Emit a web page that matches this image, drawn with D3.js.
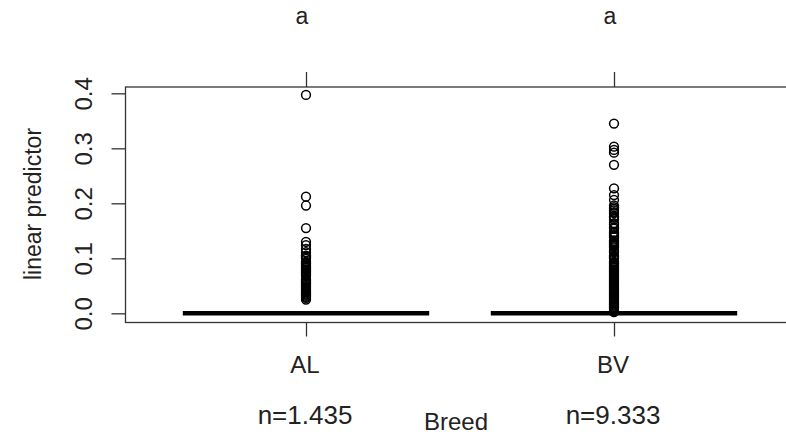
<!DOCTYPE html>
<html>
<head>
<meta charset="utf-8">
<script src="https://cdn.jsdelivr.net/npm/d3@7"></script>
<style>
  html, body { margin: 0; padding: 0; background: #fff; }
  svg { display: block; }
  text { font-family: "Liberation Sans", Arial, sans-serif; fill: #222; }
</style>
</head>
<body>
<svg id="chart" width="786" height="434"></svg>
<script>
// Groups and their summary labels
const breeds = ["AL", "BV"];
const groupLetters = ["a", "a"];
const counts = ["n=1.435", "n=9.333"];

// Five-number summaries (min whisker, Q1, median, Q3, max whisker)
const alStats = [0, 0, 0, 0, 0];
const bvStats = [0, 0, 0, 0, 0];

// Points beyond the whiskers
const alOutliers = [
  0.397, 0.212, 0.196, 0.155, 0.130, 0.124, 0.117, 0.111,
  0.105, 0.103, 0.101, 0.099, 0.094, 0.092, 0.090, 0.088, 0.086,
  0.084, 0.082, 0.080, 0.078, 0.076, 0.074, 0.072, 0.070, 0.068,
  0.062, 0.060, 0.058, 0.056, 0.054, 0.052, 0.050, 0.048, 0.046,
  0.044, 0.042, 0.040, 0.038, 0.036, 0.034, 0.032, 0.030, 0.028, 0.025
];
const bvOutliers = [
  0.345, 0.303, 0.297, 0.292, 0.270, 0.227, 0.215, 0.206,
  0.196, 0.193, 0.190, 0.187, 0.184, 0.182, 0.176, 0.174, 0.171,
  0.164, 0.162, 0.156, 0.154, 0.148, 0.146, 0.144, 0.142, 0.140,
  0.138, 0.132, 0.130, 0.128, 0.126, 0.124, 0.122, 0.120, 0.115,
  0.113, 0.111, 0.105, 0.103, 0.101, 0.099, 0.094, 0.092, 0.090,
  0.088, 0.086, 0.084, 0.082, 0.080, 0.078, 0.076, 0.074, 0.072,
  0.070, 0.068, 0.066, 0.064, 0.062, 0.060, 0.058, 0.056, 0.054,
  0.052, 0.050, 0.048, 0.046, 0.044, 0.042, 0.040, 0.038, 0.036,
  0.034, 0.032, 0.030, 0.028, 0.026, 0.024, 0.022, 0.020, 0.018,
  0.016, 0.014, 0.012, 0.010, 0.008, 0.006, 0.004, 0.002
];

const yTicks = [0.0, 0.1, 0.2, 0.3, 0.4];
const yLimits = [-0.0167, 0.4115];

const groups = [
  { name: breeds[0], pos: 1, stats: alStats, out: alOutliers, letter: groupLetters[0], n: counts[0] },
  { name: breeds[1], pos: 2, stats: bvStats, out: bvOutliers, letter: groupLetters[1], n: counts[1] }
];

const svg = d3.select("#chart");
const plot = { left: 125.5, right: 794, top: 87, bottom: 322.5 };

const x = d3.scaleLinear().domain([1, 2]).range([306, 614]);
const y = d3.scaleLinear().domain(yLimits).range([plot.bottom, plot.top]);
const boxHalf = 0.4;
const frameColor = "#333";
const fontFamily = "Liberation Sans, Arial, sans-serif";

// Plot frame
svg.append("rect")
  .attr("x", plot.left).attr("y", plot.top)
  .attr("width", plot.right - plot.left).attr("height", plot.bottom - plot.top)
  .attr("fill", "none").attr("stroke", frameColor).attr("stroke-width", 1.3);

// Left axis with labels parallel to the axis
const yAxis = svg.append("g")
  .attr("transform", `translate(${plot.left},0)`)
  .call(d3.axisLeft(y).tickValues(yTicks).tickSize(14).tickFormat(d3.format(".1f")));
yAxis.select(".domain").remove();
yAxis.selectAll(".tick line").attr("stroke", frameColor).attr("stroke-width", 1.3);
yAxis.selectAll(".tick text")
  .attr("x", null).attr("dy", null)
  .attr("transform", "translate(-34,0) rotate(-90)")
  .attr("text-anchor", "middle")
  .style("font-size", "24px")
  .style("font-family", fontFamily)
  .attr("fill", "#222");

// Bottom axis with group names
const xAxis = svg.append("g")
  .attr("transform", `translate(0,${plot.bottom})`)
  .call(d3.axisBottom(x).tickValues(groups.map(g => g.pos)).tickSize(14)
    .tickFormat((d, i) => groups[i].name));
xAxis.select(".domain").remove();
xAxis.selectAll(".tick line").attr("stroke", frameColor).attr("stroke-width", 1.3);
xAxis.selectAll(".tick text")
  .attr("y", 50.5).attr("dy", null).attr("dx", -1.5)
  .style("font-size", "24px")
  .style("font-family", fontFamily)
  .attr("fill", "#222");

// Top axis carrying the grouping letters
const topAxis = svg.append("g")
  .attr("transform", `translate(0,${plot.top})`)
  .call(d3.axisTop(x).tickValues(groups.map(g => g.pos)).tickSize(15)
    .tickFormat((d, i) => groups[i].letter));
topAxis.select(".domain").remove();
topAxis.selectAll(".tick line").attr("stroke", frameColor).attr("stroke-width", 1.3);
topAxis.selectAll(".tick text")
  .attr("y", -63).attr("dy", null).attr("dx", -4.5)
  .style("font-size", "23px")
  .style("font-family", fontFamily)
  .attr("fill", "#222");

// Boxes: zero-height boxes collapse onto the median
groups.forEach(g => {
  const [lo, q1, med, q3, hi] = g.stats;
  const gEl = svg.append("g");
  const x0 = x(g.pos - boxHalf), x1 = x(g.pos + boxHalf);
  const s0 = x(g.pos - boxHalf / 2), s1 = x(g.pos + boxHalf / 2);
  // whiskers and staples
  gEl.append("line").attr("x1", x(g.pos)).attr("x2", x(g.pos))
    .attr("y1", y(hi)).attr("y2", y(q3)).attr("stroke", "#000").attr("stroke-dasharray", "4,3");
  gEl.append("line").attr("x1", x(g.pos)).attr("x2", x(g.pos))
    .attr("y1", y(q1)).attr("y2", y(lo)).attr("stroke", "#000").attr("stroke-dasharray", "4,3");
  gEl.append("line").attr("x1", s0).attr("x2", s1).attr("y1", y(hi)).attr("y2", y(hi)).attr("stroke", "#000");
  gEl.append("line").attr("x1", s0).attr("x2", s1).attr("y1", y(lo)).attr("y2", y(lo)).attr("stroke", "#000");
  // box
  gEl.append("rect").attr("x", x0).attr("y", y(q3))
    .attr("width", x1 - x0).attr("height", Math.max(0, y(q1) - y(q3)))
    .attr("fill", "none").attr("stroke", "#000");
  // median
  gEl.append("line").attr("x1", x0).attr("x2", x1)
    .attr("y1", y(med)).attr("y2", y(med))
    .attr("stroke", "#000").attr("stroke-width", 4.5);
  // outliers
  gEl.selectAll("circle").data(g.out).join("circle")
    .attr("cx", x(g.pos)).attr("cy", d => y(d)).attr("r", 4.4)
    .attr("fill", "none").attr("stroke", "#000").attr("stroke-width", 1.5);
});

// Sample sizes under each group
svg.selectAll("text.count").data(groups).join("text")
  .attr("class", "count")
  .attr("x", g => x(g.pos) - 1).attr("y", 423.5)
  .attr("text-anchor", "middle")
  .style("font-size", "26px")
  .text(g => g.n);

// Axis titles
svg.append("text")
  .attr("x", 456).attr("y", 430)
  .attr("text-anchor", "middle")
  .style("font-size", "24px")
  .text("Breed");

svg.append("text")
  .attr("transform", "translate(40.5,204) rotate(-90)")
  .attr("text-anchor", "middle")
  .style("font-size", "23px")
  .text("linear predictor");
</script>
</body>
</html>
